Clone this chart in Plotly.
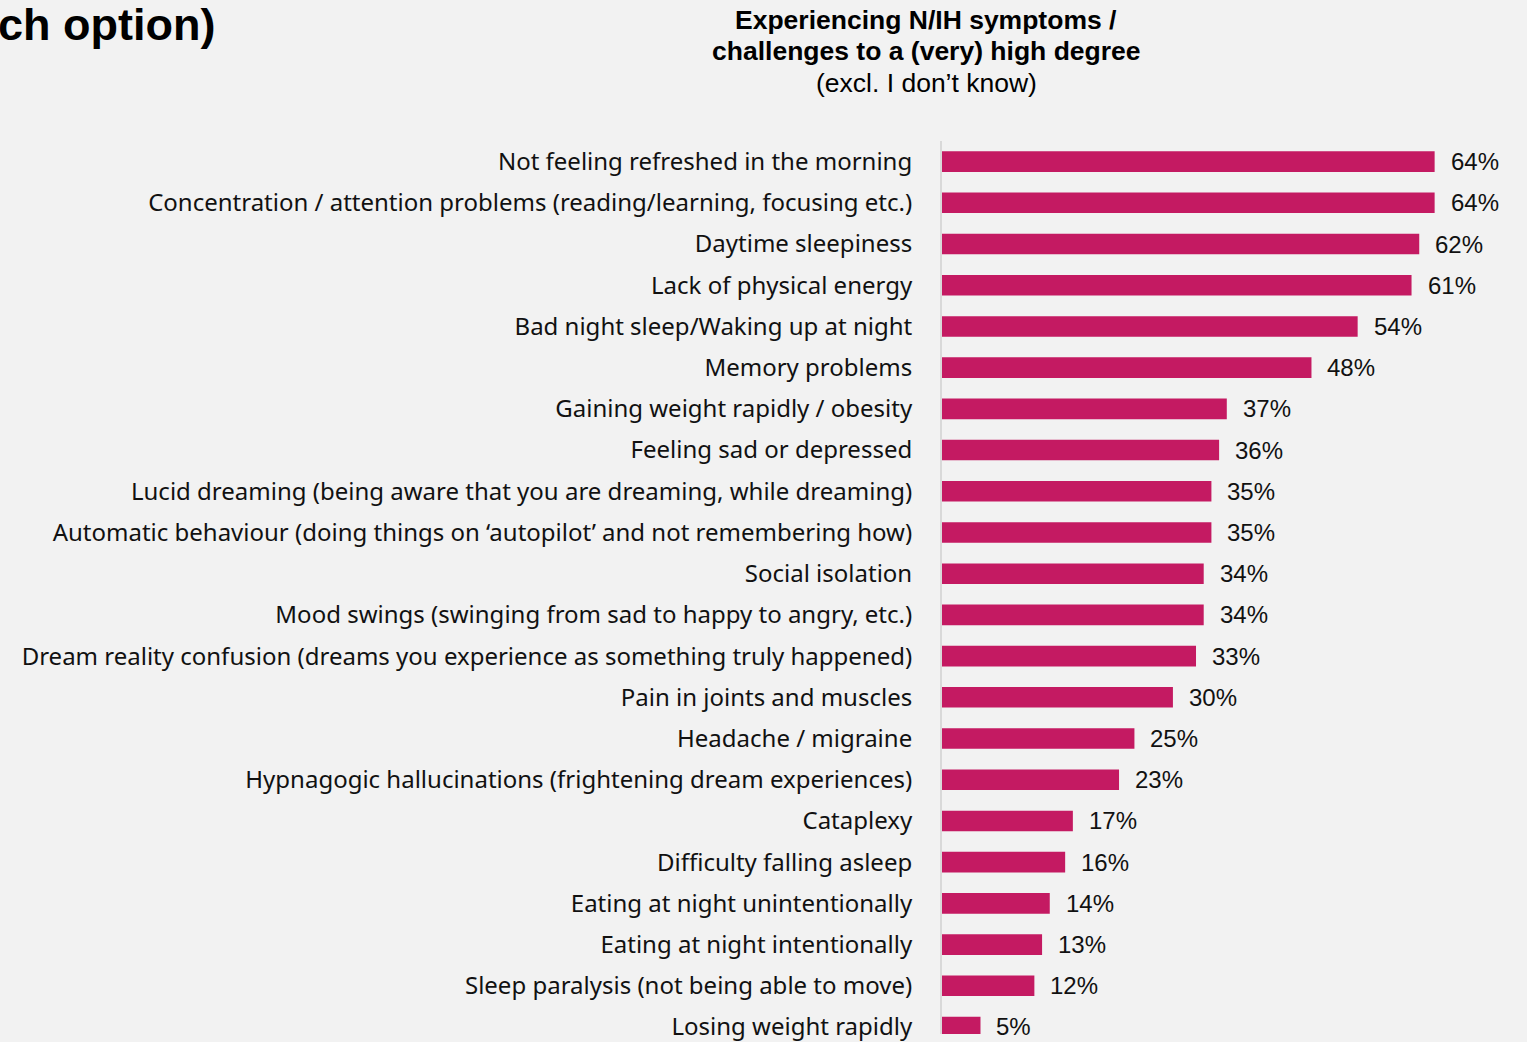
import plotly.graph_objects as go

categories = [
    "Not feeling refreshed in the morning",
    "Concentration / attention problems (reading/learning, focusing etc.)",
    "Daytime sleepiness",
    "Lack of physical energy",
    "Bad night sleep/Waking up at night",
    "Memory problems",
    "Gaining weight rapidly / obesity",
    "Feeling sad or depressed",
    "Lucid dreaming (being aware that you are dreaming, while dreaming)",
    "Automatic behaviour (doing things on \u2018autopilot\u2019 and not remembering how)",
    "Social isolation",
    "Mood swings (swinging from sad to happy to angry, etc.)",
    "Dream reality confusion (dreams you experience as something truly happened)",
    "Pain in joints and muscles",
    "Headache / migraine",
    "Hypnagogic hallucinations (frightening dream experiences)",
    "Cataplexy",
    "Difficulty falling asleep",
    "Eating at night unintentionally",
    "Eating at night intentionally",
    "Sleep paralysis (not being able to move)",
    "Losing weight rapidly",
]
values = [64, 64, 62, 61, 54, 48, 37, 36, 35, 35, 34, 34, 33, 30, 25, 23, 17, 16, 14, 13, 12, 5]
value_labels = [f"{v}%" for v in values]

BAR = "#c41a62"
BG = "#f2f2f2"

fig = go.Figure()
fig.add_trace(go.Bar(
    y=categories, x=values, orientation="h",
    marker=dict(color=BAR, line=dict(width=0)),
    width=0.5, hoverinfo="skip",
))

for c, v, t in zip(categories, values, value_labels):
    fig.add_annotation(x=v, y=c, text=t, xref="x", yref="y", showarrow=False,
                       xanchor="left", xshift=14,
                       font=dict(family="Liberation Sans, Arial", size=24, color="#111111"))

TOP = 141
fig.update_layout(
    width=1527, height=1042,
    paper_bgcolor=BG, plot_bgcolor=BG,
    margin=dict(l=942, r=0, t=TOP, b=0),
    showlegend=False,
    bargap=0.5,
    xaxis=dict(range=[0, 76], visible=False, showgrid=False, zeroline=False),
    yaxis=dict(
        range=[21.17, -0.5], showgrid=False, zeroline=False,
        showline=True, linecolor="#d9d9d9", linewidth=2,
        ticks="", ticklabelstandoff=23,
        tickfont=dict(family="Noto Sans", size=24, color="#111111"),
    ),
    font=dict(family="Liberation Sans, Arial", color="#000000"),
)

plot_w = 1527 - 942
plot_h = 1042 - TOP
def px_x(x):
    return (x - 942) / plot_w
def px_y(y):
    return (1042 - y) / plot_h

fig.add_annotation(x=px_x(217), y=px_y(23), xref="paper", yref="paper",
                   text="<b>ch option)</b>", showarrow=False,
                   xanchor="right", yanchor="middle",
                   font=dict(family="Liberation Sans, Arial", size=45, color="#000000"))
title_lines = [
    ("<b>Experiencing N/IH symptoms /</b>", 19),
    ("<b>challenges to a (very) high degree</b>", 50),
    ("(excl. I don\u2019t know)", 82),
]
for txt, yy in title_lines:
    fig.add_annotation(x=px_x(926), y=px_y(yy), xref="paper", yref="paper",
                       text=txt, showarrow=False,
                       xanchor="center", yanchor="middle",
                       font=dict(family="Liberation Sans, Arial", size=26.5, color="#000000"))

fig.write_html("out.html", config={"displayModeBar": False},
               post_script="document.body.style.margin='0';")
